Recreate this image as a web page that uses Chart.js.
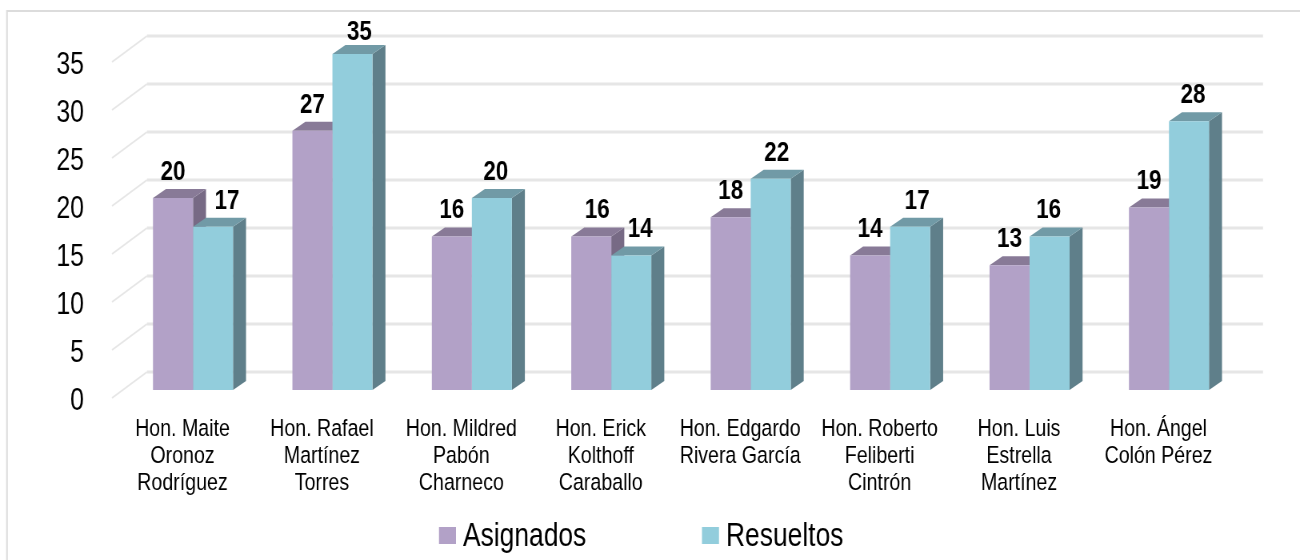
<!DOCTYPE html>
<html>
<head>
<meta charset="utf-8">
<style>
  html, body { margin: 0; padding: 0; background: #fff; overflow: hidden; width: 1300px; height: 560px; }
  /* the original picture is squeezed sideways, so the whole canvas is too */
  canvas { display: block; transform: scaleX(0.8); transform-origin: 0 0; }
</style>
<script src="https://cdn.jsdelivr.net/npm/chart.js@4/dist/chart.umd.min.js"></script>
</head>
<body>
<canvas id="casosChart" width="1625" height="560"></canvas>
<script>
const jueces = [
    ['Hon. Maite', 'Oronoz', 'Rodríguez'],
    ['Hon. Rafael', 'Martínez', 'Torres'],
    ['Hon. Mildred', 'Pabón', 'Charneco'],
    ['Hon. Erick', 'Kolthoff', 'Caraballo'],
    ['Hon. Edgardo', 'Rivera García'],
    ['Hon. Roberto', 'Feliberti', 'Cintrón'],
    ['Hon. Luis', 'Estrella', 'Martínez'],
    ['Hon. Ángel', 'Colón Pérez']
];
const asignados = [20, 27, 16, 16, 18, 14, 13, 19];
const resueltos = [17, 35, 20, 14, 22, 17, 16, 28];
const yTicks = [0, 5, 10, 15, 20, 25, 30, 35];

const fuente = '"Liberation Sans", Arial, sans-serif';
const sx = 0.8; // same as the css scaleX, converts screen px to canvas px

// colours of the fake 3d faces, one per dataset
const caras = [
    { front: '#b2a1c7', top: '#887a97', side: '#776a85' },
    { front: '#92cddc', top: '#719aa6', side: '#5f7f8a' }
];
const depthX = 13 / sx, depthY = 9;

// small per-label nudges so the numbers sit like in the original
const nudgeX = [
    [0, 0, 0, 6, 0, 0, 0, 0],
    [14, 7, 4, 9, 6, 7, -1, 4]
];

const fake3d = {
    id: 'fake3d',
    beforeDraw(chart) {
        const ctx = chart.ctx;
        ctx.save();
        ctx.strokeStyle = '#dcdcdc';
        ctx.lineWidth = 2;
        ctx.beginPath();
        ctx.moveTo(7 / sx, 560);
        ctx.lineTo(7 / sx, 11);
        ctx.lineTo(1300 / sx, 11);
        ctx.stroke();
        ctx.restore();
    },
    beforeDatasetsDraw(chart) {
        const ctx = chart.ctx;
        const y = chart.scales.y;
        ctx.save();
        ctx.strokeStyle = '#e6e6e6';
        // back wall lines and the floor diagonals
        yTicks.forEach(t => {
            const p = y.getPixelForValue(t);
            ctx.lineWidth = 2;
            ctx.beginPath();
            ctx.moveTo(112 / sx, p + 8);
            ctx.lineTo(147 / sx, p - 18);
            ctx.stroke();
            ctx.lineWidth = 3;
            ctx.beginPath();
            ctx.moveTo(147 / sx, p - 18);
            ctx.lineTo(1263 / sx, p - 18);
            ctx.stroke();
        });
        // top and side of every bar, the library paints the front afterwards
        chart.data.datasets.forEach((ds, d) => {
            chart.getDatasetMeta(d).data.forEach(bar => {
                const l = bar.x - bar.width / 2, r = bar.x + bar.width / 2;
                ctx.fillStyle = caras[d].side;
                ctx.beginPath();
                ctx.moveTo(r, bar.y);
                ctx.lineTo(r + depthX, bar.y - depthY);
                ctx.lineTo(r + depthX, bar.base - depthY);
                ctx.lineTo(r, bar.base);
                ctx.fill();
                ctx.fillStyle = caras[d].top;
                ctx.beginPath();
                ctx.moveTo(l, bar.y);
                ctx.lineTo(l + depthX, bar.y - depthY);
                ctx.lineTo(r + depthX, bar.y - depthY);
                ctx.lineTo(r, bar.y);
                ctx.fill();
            });
        });
        ctx.restore();
    },
    afterDatasetsDraw(chart) {
        const ctx = chart.ctx;
        ctx.save();
        ctx.fillStyle = '#000';
        ctx.font = 'bold 28px ' + fuente;
        ctx.textAlign = 'center';
        ctx.textBaseline = 'middle';
        chart.data.datasets.forEach((ds, d) => {
            chart.getDatasetMeta(d).data.forEach((bar, i) => {
                const top = Math.max(bar.y - 26, 32);
                ctx.fillText(ds.data[i], bar.x + nudgeX[d][i] / sx, top);
            });
        });
        // legend
        ctx.font = '33px ' + fuente;
        ctx.textAlign = 'left';
        const legendX = [439, 702];
        chart.data.datasets.forEach((ds, d) => {
            ctx.fillStyle = caras[d].front;
            ctx.fillRect(legendX[d] / sx, 527, 17 / sx, 17);
            ctx.fillStyle = '#000';
            ctx.fillText(ds.label, (legendX[d] + 24) / sx, 537);
        });
        ctx.restore();
    }
};

new Chart(document.getElementById('casosChart'), {
    type: 'bar',
    data: {
        labels: jueces,
        datasets: [
            { label: 'Asignados', data: asignados, backgroundColor: caras[0].front },
            { label: 'Resueltos', data: resueltos, backgroundColor: caras[1].front }
        ]
    },
    options: {
        responsive: false,
        animation: false,
        layout: { padding: { top: 25.2, right: 61.3 / sx, left: 0, bottom: 0 } },
        datasets: { bar: { barPercentage: 1, categoryPercentage: 0.574 } },
        plugins: { legend: { display: false }, tooltip: { enabled: false } },
        scales: {
            x: {
                grid: { display: false },
                border: { display: false },
                afterFit(s) { s.height = 170; s.paddingTop = 0; s.paddingBottom = 0; },
                ticks: {
                    color: '#000',
                    maxRotation: 0,
                    autoSkip: false,
                    padding: 18,
                    labelOffset: -10.5 / sx,
                    font: { family: fuente, size: 24.5, lineHeight: '27px' }
                }
            },
            y: {
                bounds: 'data',
                min: 0,
                max: 38,
                grid: { display: false },
                border: { display: false },
                afterBuildTicks(s) { s.ticks = yTicks.map(v => ({ value: v })); },
                afterFit(s) { s.width = 123.3 / sx; s.paddingTop = 0; s.paddingBottom = 0; },
                ticks: {
                    color: '#000',
                    padding: 33 / sx,
                    labelOffset: 11.5,
                    font: { family: fuente, size: 31 }
                }
            }
        }
    },
    plugins: [fake3d]
});
</script>
</body>
</html>
